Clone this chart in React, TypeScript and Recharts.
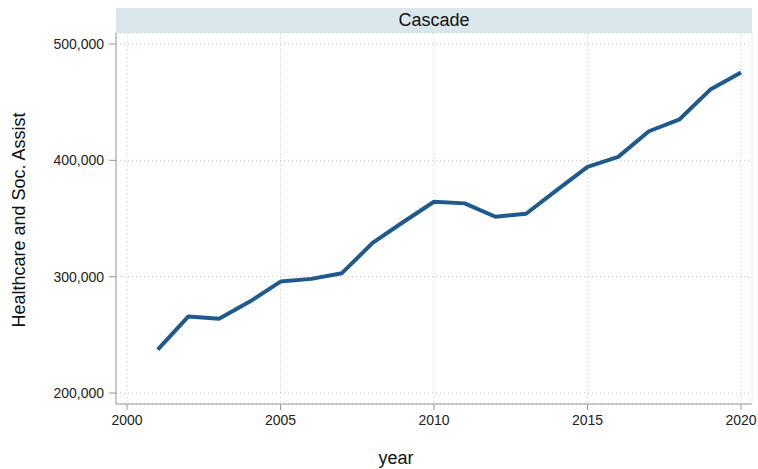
import { CartesianGrid, Line, LineChart, XAxis, YAxis } from "recharts"

const years = [
  2001, 2002, 2003, 2004, 2005, 2006, 2007, 2008, 2009, 2010, 2011, 2012, 2013,
  2014, 2015, 2016, 2017, 2018, 2019, 2020,
]
const healthcare = [
  237200, 265800, 263800, 278600, 295800, 298100, 303000, 329000, 347000,
  364400, 363000, 351500, 354100, 374400, 394400, 403000, 425000, 435300,
  460800, 475600,
]
const xTicks = [2000, 2005, 2010, 2015, 2020]
const yTicks = [200000, 300000, 400000, 500000]
const panelTitle = "Cascade"

const data = years.map((year, i) => ({ year, value: healthcare[i] }))

const font = "'Liberation Sans', Arial, Helvetica, sans-serif"
const axisColor = "#9a9a9a"

export default function App() {
  return (
    <div
      style={{
        position: "absolute",
        left: 0,
        top: 0,
        width: 758,
        height: 469,
        background: "#fff",
        fontFamily: font,
      }}
    >
      <div
        style={{
          position: "absolute",
          left: 116,
          top: 8,
          width: 636,
          height: 25,
          background: "#d9e6ec",
          color: "#111",
          fontSize: 18,
          lineHeight: "25px",
          textAlign: "center",
        }}
      >
        {panelTitle}
      </div>
      <LineChart
        width={758}
        height={469}
        data={data}
        margin={{ top: 33, right: 6, bottom: 35, left: 0 }}
        style={{ fontFamily: font }}
      >
        <CartesianGrid stroke="#c8c8c8" strokeDasharray="1 3" />
        <XAxis
          type="number"
          dataKey="year"
          domain={[2000, 2020]}
          ticks={xTicks}
          padding={{ left: 11, right: 11 }}
          height={30}
          stroke={axisColor}
          tickSize={6}
          tickMargin={5}
          tick={{ fill: "#222", fontSize: 14 }}
          label={{
            content: () => (
              <text x={396} y={464} textAnchor="middle" fontSize={18} fill="#111">
                year
              </text>
            ),
          }}
        />
        <YAxis
          type="number"
          domain={[200000, 500000]}
          ticks={yTicks}
          padding={{ top: 11, bottom: 11 }}
          width={116}
          stroke={axisColor}
          tickSize={7}
          tickMargin={5}
          tick={{ fill: "#222", fontSize: 14 }}
          tickFormatter={(v: number) => v.toLocaleString("en-US")}
          label={{
            content: () => (
              <text
                x={25}
                y={220}
                textAnchor="middle"
                fontSize={18}
                fill="#111"
                transform="rotate(-90 25 220)"
              >
                Healthcare and Soc. Assist
              </text>
            ),
          }}
        />
        <Line
          type="linear"
          dataKey="value"
          stroke="#1f5a8e"
          strokeWidth={4}
          strokeLinejoin="round"
          dot={false}
          activeDot={false}
          isAnimationActive={false}
        />
      </LineChart>
    </div>
  )
}
